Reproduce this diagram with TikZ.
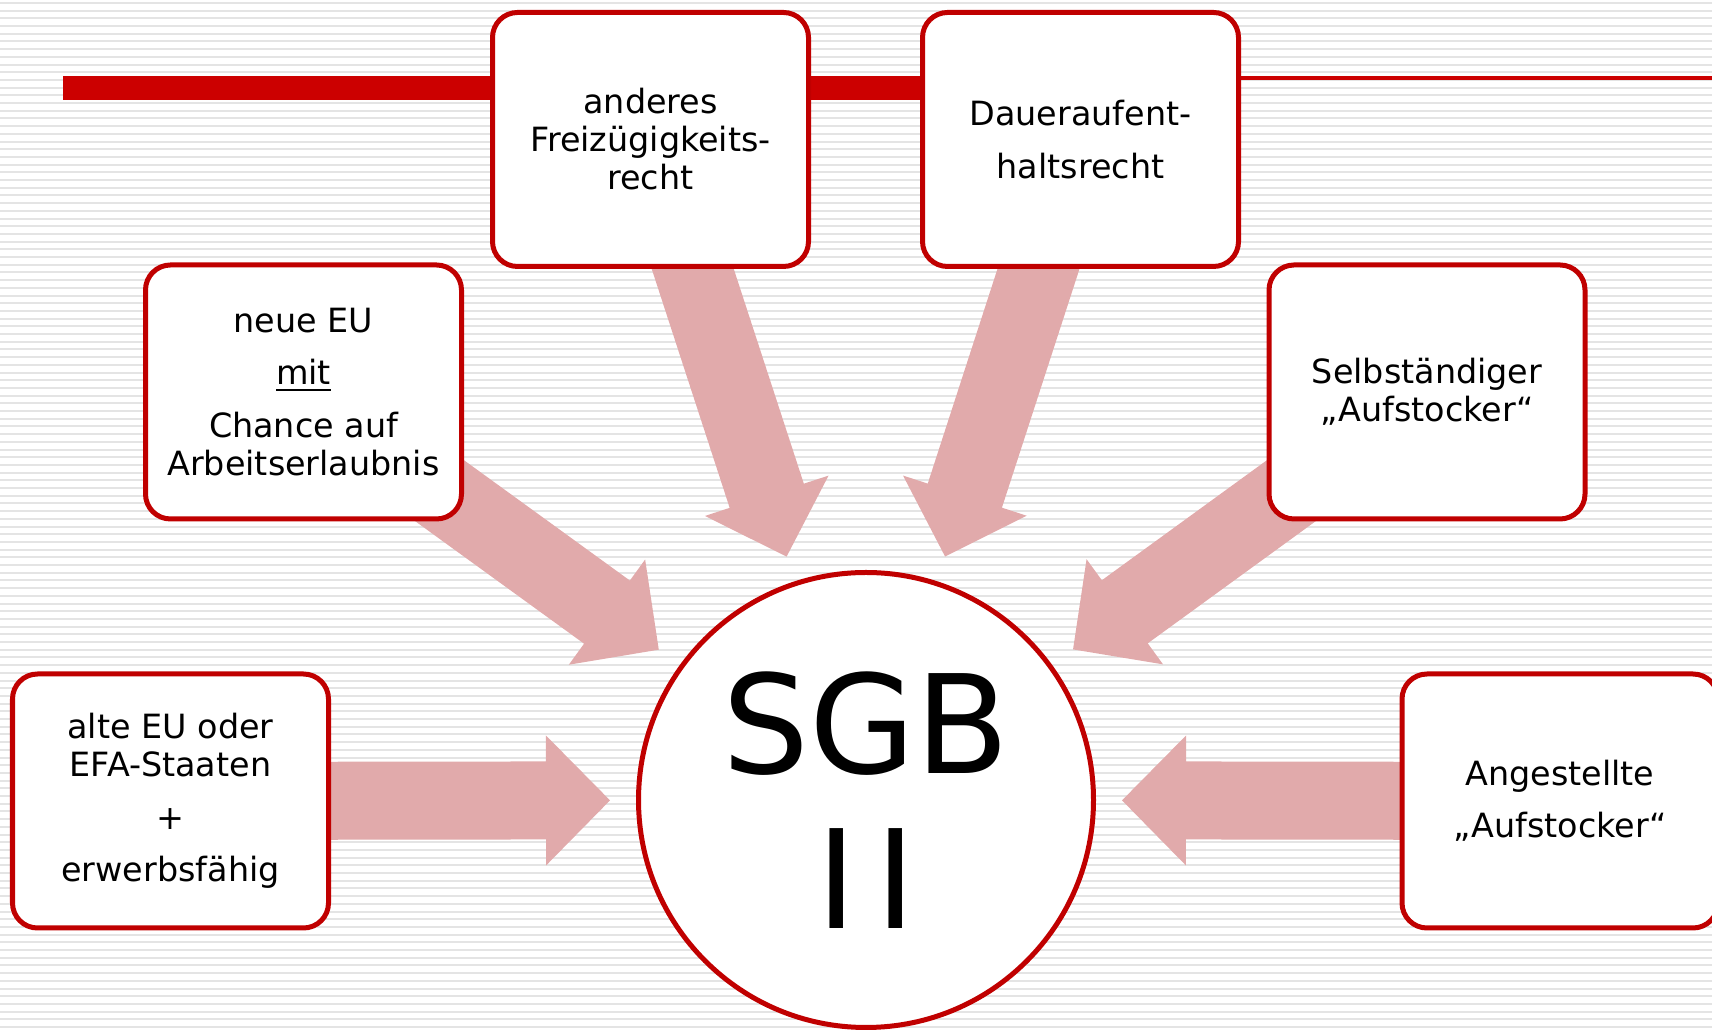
\documentclass[tikz,border=0pt]{standalone}
\usepackage{fontspec}
\setmainfont{DejaVu Sans}
\usetikzlibrary{calc,backgrounds}

\definecolor{sgbred}{HTML}{C00000}
\definecolor{barred}{HTML}{CC0000}
\definecolor{arrowpink}{HTML}{E1AAAB}
\definecolor{stripegray}{HTML}{E4E4E4}

% broad arrow from #1 to the tip #2
\newcommand{\fatarrow}[2]{%
  \coordinate (fb) at ($(#2)!0.64cm!(#1)$);
  \fill[arrowpink] ($(#1)!0.39cm!90:(#2)$) -- ($(fb)!0.39cm!90:(#2)$)
    -- ($(fb)!0.65cm!90:(#2)$) -- (#2) -- ($(fb)!0.65cm!-90:(#2)$)
    -- ($(fb)!0.39cm!-90:(#2)$) -- ($(#1)!0.39cm!-90:(#2)$) -- cycle;
}

\begin{document}
\begin{tikzpicture}[
    infobox/.style={draw=sgbred, line width=0.05cm, fill=white, rounded corners=0.25cm,
      minimum width=3.16cm, minimum height=2.54cm, inner sep=0pt, align=center,
      font=\fontsize{9.5}{10.8}\selectfont},
    sgbcircle/.style={circle, draw=sgbred, line width=0.05cm, fill=white,
      minimum size=4.55cm, inner sep=0pt, align=center,
      font=\fontsize{39}{44}\selectfont},
    stripe/.style={stripegray, line width=0.02cm}
  ]
  \useasboundingbox (0,0) rectangle (17.12,10.31);

  % the six boxes
  \node[infobox] (anderes) at (6.505,8.915) {anderes\\Freizügigkeits-\\recht};
  \node[infobox] (dauer) at (10.805,8.915) {Daueraufent-\\[4.1pt]haltsrecht};
  \node[infobox] (neu) at (3.035,6.39) {neue EU\\[4.1pt]\underline{mit}\\[4.1pt]Chance auf\\Arbeitserlaubnis};
  \node[infobox] (selb) at (14.27,6.39) {Selbständiger\\„Aufstocker“};
  \node[infobox] (alte) at (1.705,2.30) {alte EU oder\\EFA-Staaten\\[4.1pt]+\\[4.1pt]erwerbsfähig};
  \node[infobox] (angest) at (15.60,2.30) {Angestellte\\[4.1pt]„Aufstocker“};

  % the circle in the middle
  \node[sgbcircle] (sgb) at (8.66,2.31) {SGB\\I\kern0.185cm I};

  \begin{pgfonlayer}{background}
    % striped background
    \foreach \k in {0,...,133}
      \draw[stripe] (0,{10.28-0.077*\k}) -- (17.12,{10.28-0.077*\k});

    % red bar at the top
    \fill[barred] (0.63,9.31) rectangle (9.5,9.55);
    \coordinate (barend) at (17.12,9.53);
    \draw[barred, line width=0.04cm] (dauer.east |- barend) -- (barend);

    % arrows into the circle
    \foreach \b in {anderes,dauer,neu,selb,alte,angest} {
      \coordinate (\b-tip) at ($(sgb.center)!2.56cm!(\b.center)$);
      \fatarrow{\b.center}{\b-tip}
    }
  \end{pgfonlayer}
\end{tikzpicture}
\end{document}
